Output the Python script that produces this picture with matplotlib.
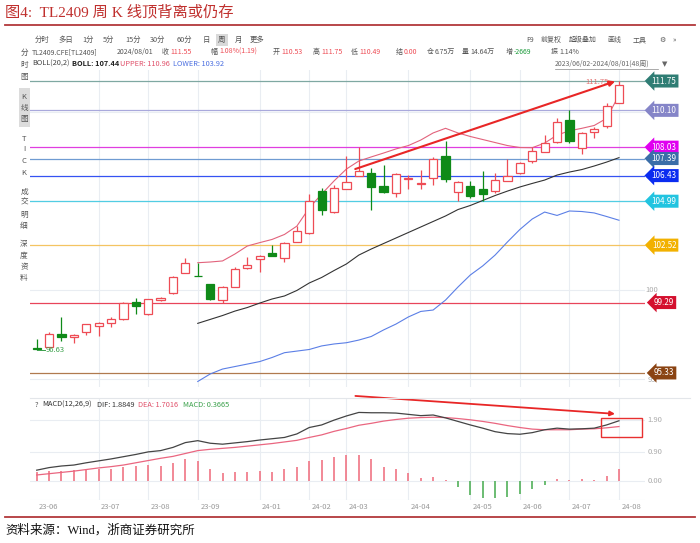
import matplotlib
matplotlib.use("Agg")
import matplotlib.pyplot as plt
import matplotlib.transforms as mtransforms
from matplotlib.patches import Rectangle

plt.rcParams['font.family'] = ['Noto Sans CJK SC', 'DejaVu Sans']

# weekly candles, TL2409 (2023/06/02 - 2024/08/01, 48 weeks)
opens = [96.70, 96.79, 97.52, 97.33, 97.62, 97.99, 98.12, 98.35, 99.34, 98.63,
         99.43, 99.81, 100.98, 100.81, 100.32, 99.43, 100.18, 101.22, 101.72, 102.06,
         101.78, 102.71, 103.18, 105.56, 104.37, 105.68, 106.42, 106.56, 105.84, 105.47,
         106.24, 105.96, 106.28, 107.55, 105.49, 105.84, 105.66, 105.58, 106.14, 106.56,
         107.25, 107.77, 108.34, 109.56, 107.96, 108.90, 109.22, 110.53]
highs = [97.24, 97.63, 98.49, 97.50, 98.10, 98.20, 98.49, 99.30, 99.56, 99.50,
         99.63, 100.80, 101.80, 101.53, 100.35, 100.20, 101.27, 101.87, 101.95, 102.53,
         102.70, 103.61, 105.38, 105.75, 105.90, 107.53, 108.03, 106.87, 107.03, 106.55,
         106.46, 106.74, 107.49, 108.38, 106.10, 106.14, 106.69, 106.59, 107.35, 107.20,
         108.02, 108.71, 109.65, 110.10, 108.87, 109.18, 110.50, 111.75]
lows = [96.63, 96.77, 97.13, 97.03, 97.46, 97.41, 97.93, 98.32, 98.65, 98.60,
        99.40, 99.78, 100.95, 100.77, 99.43, 99.28, 100.15, 101.20, 100.99, 101.90,
        101.55, 102.68, 103.15, 104.21, 104.35, 105.65, 106.40, 104.49, 105.45, 105.21,
        105.66, 105.66, 105.90, 106.05, 104.99, 105.15, 104.99, 105.47, 106.10, 106.50,
        107.12, 107.75, 108.25, 108.25, 107.64, 108.53, 109.09, 110.49]
closes = [96.68, 97.52, 97.35, 97.46, 98.07, 98.12, 98.35, 99.25, 99.11, 99.47,
          99.53, 100.74, 101.54, 100.78, 99.47, 100.18, 101.16, 101.40, 101.92, 101.92,
          102.66, 103.31, 105.00, 104.49, 105.75, 106.07, 106.69, 105.77, 105.49, 106.52,
          106.26, 105.98, 107.35, 106.24, 106.09, 105.30, 105.39, 106.18, 106.41, 107.16,
          107.83, 108.25, 109.43, 108.39, 108.84, 109.05, 110.34, 111.55]

# BOLL(20,2), shown from week 14 on
boll_start = 13
boll_upper = [101.53, 101.57, 101.63, 102.02, 102.47, 102.66, 102.84, 103.12, 103.59, 104.61,
              105.39, 106.13, 106.80, 107.25, 107.48, 107.70, 107.93, 108.12, 108.43, 108.83,
              109.09, 108.83, 108.63, 108.46, 108.29, 108.12, 108.01, 108.00, 108.26, 108.71,
              108.95, 109.09, 109.25, 109.65, 110.96]
boll_mid = [98.12, 98.34, 98.56, 98.81, 99.01, 99.26, 99.49, 99.66, 99.97, 100.39,
            100.70, 101.09, 101.46, 101.96, 102.30, 102.61, 102.92, 103.23, 103.54, 103.85,
            104.16, 104.52, 104.75, 105.03, 105.31, 105.56, 105.79, 105.99, 106.18, 106.46,
            106.63, 106.77, 106.97, 107.19, 107.44]
boll_lower = [94.85, 95.27, 95.55, 95.69, 95.83, 95.97, 96.20, 96.47, 96.56, 96.65,
              96.85, 96.96, 97.03, 97.18, 97.38, 97.75, 98.08, 98.48, 98.79, 98.87,
              99.43, 100.16, 100.84, 101.35, 101.96, 102.70, 103.40, 103.99, 104.38, 104.19,
              104.44, 104.41, 104.33, 104.13, 103.92]

# MACD(12,26,9)
dif = [0.34, 0.42, 0.47, 0.50, 0.57, 0.63, 0.69, 0.76, 0.83, 0.91,
       0.95, 1.05, 1.20, 1.26, 1.18, 1.15, 1.19, 1.23, 1.28, 1.32,
       1.36, 1.47, 1.67, 1.75, 1.90, 2.03, 2.14, 2.13, 2.13, 2.12,
       2.08, 2.04, 2.06, 1.97, 1.86, 1.75, 1.65, 1.54, 1.48, 1.46,
       1.51, 1.60, 1.65, 1.62, 1.63, 1.65, 1.75, 1.88]
dea = [0.19, 0.23, 0.27, 0.31, 0.36, 0.41, 0.45, 0.50, 0.57, 0.64,
       0.71, 0.77, 0.86, 0.95, 0.99, 1.02, 1.05, 1.09, 1.13, 1.17,
       1.22, 1.27, 1.36, 1.44, 1.55, 1.64, 1.74, 1.80, 1.87, 1.92,
       1.96, 1.98, 1.99, 1.98, 1.95, 1.91, 1.86, 1.80, 1.73, 1.67,
       1.62, 1.60, 1.60, 1.60, 1.62, 1.63, 1.66, 1.70]
macd_hist = [0.28, 0.31, 0.32, 0.34, 0.38, 0.38, 0.38, 0.45, 0.47, 0.50,
             0.47, 0.55, 0.69, 0.63, 0.37, 0.24, 0.28, 0.28, 0.31, 0.29,
             0.37, 0.43, 0.64, 0.66, 0.76, 0.81, 0.81, 0.68, 0.45, 0.38,
             0.25, 0.10, 0.12, 0.02, -0.20, -0.42, -0.54, -0.54, -0.51, -0.41,
             -0.25, -0.12, 0.08, 0.03, 0.05, 0.04, 0.17, 0.37]

# month labels under the chart and the week they sit on
month_labels = ['23-06', '23-07', '23-08', '23-09', '24-01', '24-02',
                '24-03', '24-04', '24-05', '24-06', '24-07', '24-08']
month_pos = [0, 5, 9, 13, 18, 22, 25, 30, 35, 39, 43, 47]

# horizontal price levels drawn by the analyst
levels = [111.75, 110.10, 108.03, 107.39, 106.43, 104.99, 102.52, 99.29, 95.33]
level_line_colors = ['#7fa8a2', '#a9a9dc', '#e03ee0', '#6f9bd2', '#3552f2',
                     '#52cde3', '#f4c462', '#e8455a', '#b07a4e']
level_box_colors = ['#2f7d74', '#8585c8', '#e000f0', '#3b6ea8', '#0b2cf0',
                    '#22c4e0', '#f2b100', '#d4102e', '#8a4312']

RED = '#ee4c55'
GREEN = '#0f8a18'

W, H = 700, 543
fig = plt.figure(figsize=(7.0, 5.43), dpi=100)


def ft(x, y, s, **kw):
    kw.setdefault('va', 'center')
    return fig.text(x / W, 1 - y / H, s, **kw)


def hline(y, x0, x1, **kw):
    fig.add_artist(plt.Line2D([x0 / W, x1 / W], [1 - y / H, 1 - y / H], **kw))


# title and source
ft(5, 12, '图4:  TL2409 周 K 线顶背离或仍存', fontsize=11, color='#c0302e',
   family=['Liberation Serif', 'Noto Sans CJK SC'])
hline(25, 5, 695, color='#b2383a', lw=1.3)
hline(517, 5, 695, color='#b2383a', lw=1.3)
ft(5, 530, '资料来源：Wind，浙商证券研究所', fontsize=9, color='#111111',
   family=['Liberation Serif', 'Noto Sans CJK SC'])

# toolbar row
grey = '#555555'
tabs = [('分时', 35), ('多日', 58), ('1分', 82), ('5分', 103), ('15分', 125), ('30分', 150),
        ('60分', 177), ('日', 203), ('周', 218), ('月', 235), ('更多', 250)]
for s, x in tabs:
    t = ft(x, 40, s, fontsize=5.3, color=grey)
    if s == '周':
        t.set_bbox(dict(boxstyle='square,pad=0.3', fc='#d9d9d9', ec='none'))
for s, x in [('F9', 526), ('前复权', 541), ('超级叠加', 569), ('画线', 607), ('工具', 633),
             ('⚙', 659), ('»', 673)]:
    ft(x, 40, s, fontsize=5.0, color=grey, family=['Noto Sans CJK SC', 'DejaVu Sans'])

# quote row
quote = [('TL2409.CFE[TL2409]', 32, grey), ('2024/08/01', 117, grey),
         ('收', 162, grey), ('111.55', 170, RED), ('幅', 211, grey), ('1.08%(1.19)', 219, RED),
         ('开', 273, grey), ('110.53', 281, RED), ('高', 313, grey), ('111.75', 321, RED),
         ('低', 351, grey), ('110.49', 359, RED), ('结', 396, grey), ('0.00', 404, RED),
         ('仓', 427, grey), ('6.75万', 435, grey), ('量', 462, grey), ('14.64万', 470, grey),
         ('增', 506, grey), ('-2669', 514, '#1a9a3a'), ('振', 551, grey), ('1.14%', 559, grey)]
for s, x, c in quote:
    ft(x, 52, s, fontsize=5.0, color=c)

# BOLL header
ft(32, 64, 'BOLL(20,2)', fontsize=5.3, color='#444444')
ft(72, 64, 'BOLL: 107.44', fontsize=5.3, color='#222222', fontweight='bold')
ft(120, 64, 'UPPER: 110.96', fontsize=5.3, color='#e0506a')
ft(173, 64, 'LOWER: 103.92', fontsize=5.3, color='#4a6ee0')
ft(555, 64, '2023/06/02-2024/08/01(48周)', fontsize=5, color='#666666')
hline(68.5, 555, 658, color='#888888', lw=0.5)
ft(662, 64, '▼', fontsize=5, color='#666666', family=['DejaVu Sans'])

# left side menu
side = [('分', 53), ('时', 65), ('图', 77), ('K', 97), ('线', 108), ('图', 119),
        ('T', 139), ('I', 149), ('C', 161), ('K', 173), ('成', 192), ('交', 203),
        ('明', 215), ('细', 226), ('深', 244), ('度', 256), ('资', 267), ('料', 278)]
fig.add_artist(Rectangle((19 / W, 1 - 127 / H), 11 / W, 39 / H, transform=fig.transFigure,
                         fc='#dcdcdc', ec='none'))
for s, y in side:
    ft(24, y, s, fontsize=5.5, color=grey, ha='center')

# main price panel
ax = fig.add_axes([30 / W, 1 - 387 / H, 615 / W, 317 / H])
ax.set_xlim(-0.54, 49.1)
ax.set_ylim(94.54, 112.37)
ax.axis('off')

grid_c = '#e9edf2'
for g in [95, 100, 105, 110]:
    ax.axhline(g, color=grid_c, lw=0.8, zorder=0)
for p in month_pos[1:]:
    ax.axvline(p, color=grid_c, lw=0.8, zorder=0)

label_tr = mtransforms.blended_transform_factory(ax.transAxes, ax.transData)
for v, lc, bc in zip(levels, level_line_colors, level_box_colors):
    ax.axhline(v, color=lc, lw=0.9, zorder=1)
    ax.text(1.031, v, f'{v:.2f}', transform=label_tr, ha='center', va='center',
            fontsize=5.8, color='white', clip_on=False, zorder=6,
            bbox=dict(boxstyle='larrow,pad=0.25', fc=bc, ec='none'))
ax.text(1.0115, 100, '100', transform=label_tr, ha='center', va='center',
        fontsize=5.5, color='#aaaaaa', clip_on=False)
ax.text(1.0115, 94.95, '95', transform=label_tr, ha='center', va='center',
        fontsize=5.5, color='#aaaaaa', clip_on=False, zorder=0)

xb = list(range(boll_start, boll_start + len(boll_mid)))
ax.plot(xb, boll_upper, color='#e2637c', lw=0.8, zorder=2)
ax.plot(xb, boll_mid, color='#333333', lw=0.8, zorder=2)
ax.plot(xb, boll_lower, color='#5b7fe6', lw=0.8, zorder=2)

for i, (o, h, l, c) in enumerate(zip(opens, highs, lows, closes)):
    up = c >= o
    col = RED if up else GREEN
    ax.vlines(i, l, h, color=col, lw=0.9, zorder=3)
    body = max(abs(c - o), 0.03)
    ax.bar(i, body, bottom=min(o, c), width=0.66, color='white' if up else GREEN,
           edgecolor=col, lw=0.9, zorder=4)

ax.plot([0, 0.7], [96.63, 96.63], color='#3aa04a', lw=0.7, zorder=5)
ax.text(0.72, 96.63, '96.63', fontsize=5.5, color='#3aa04a', va='center', zorder=5)
ax.text(45.2, 111.72, '111.75', fontsize=5.5, color='#e06060', ha='center', va='center',
        alpha=0.85, zorder=5)

ax.annotate('', xy=(46.9, 111.78), xytext=(25.5, 106.75),
            arrowprops=dict(arrowstyle='-|>', color='#e82626', lw=1.5, mutation_scale=8),
            zorder=7)

# MACD panel
hline(398, 30, 690, color='#e3e6ea', lw=0.8)
ax2 = fig.add_axes([30 / W, 1 - 500 / H, 615 / W, 102 / H])
ax2.set_xlim(-0.54, 49.1)
ax2.set_ylim(-0.59, 2.59)
ax2.axis('off')
for g in [0, 0.9, 1.9]:
    ax2.axhline(g, color=grid_c, lw=0.8, zorder=0)
ax2.axhline(-0.59, color=grid_c, lw=0.8, zorder=0)
for p in month_pos[1:]:
    ax2.axvline(p, color=grid_c, lw=0.8, zorder=0)

xs = list(range(len(dif)))
hist_cols = ['#f07484' if m >= 0 else '#52b05a' for m in macd_hist]
ax2.vlines(xs, 0, macd_hist, colors=hist_cols, lw=1.2, zorder=2)
ax2.plot(xs, dea, color='#ea6680', lw=0.9, zorder=3)
ax2.plot(xs, dif, color='#444444', lw=0.9, zorder=3)

tr2 = mtransforms.blended_transform_factory(ax2.transAxes, ax2.transData)
for g, s in [(1.9, '1.90'), (0.9, '0.90'), (0.0, '0.00')]:
    ax2.text(1.016, g, s, transform=tr2, ha='center', va='center', fontsize=5.5,
             color='#aaaaaa', clip_on=False)

ax2.add_patch(Rectangle((45.52, 1.366), 3.31, 0.614, fill=False, ec='#e83030', lw=1.0,
                        zorder=5, clip_on=False))
ax2.annotate('', xy=(46.9, 2.09), xytext=(25.5, 2.66),
             arrowprops=dict(arrowstyle='-|>', color='#e82626', lw=1.3, mutation_scale=7),
             annotation_clip=False, zorder=6)

ft(35, 405, '?', fontsize=5.3, color=grey)
ft(42, 405, 'MACD(12,26,9)', fontsize=5.3, color='#333333')
ft(97, 405, 'DIF: 1.8849', fontsize=5.3, color='#333333')
ft(138, 405, 'DEA: 1.7016', fontsize=5.3, color='#e0506a')
ft(183, 405, 'MACD: 0.3665', fontsize=5.3, color='#3aa04a')

date_tr = mtransforms.blended_transform_factory(ax2.transData, fig.transFigure)
for lab, p in zip(month_labels, month_pos):
    ax2.text(p + 0.2, 1 - 507 / H, lab, transform=date_tr, ha='left', va='center',
             fontsize=5.5, color='#999999', clip_on=False)

fig.savefig('out.png', dpi=100, facecolor='white')
